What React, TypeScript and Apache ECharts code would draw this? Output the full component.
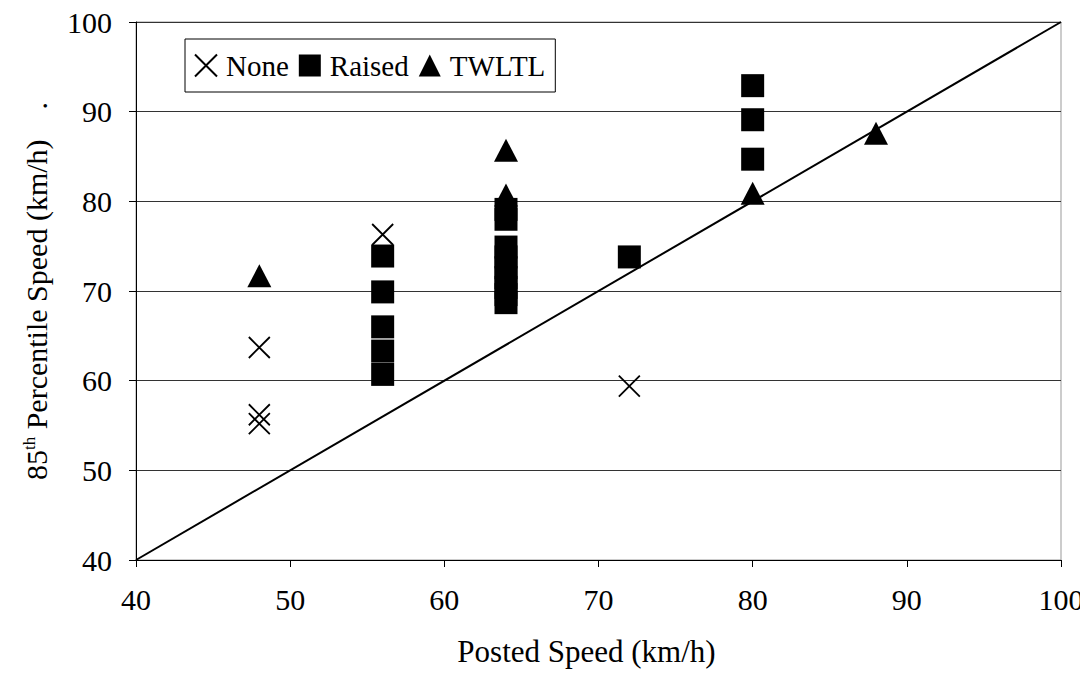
import React, { useEffect, useRef } from "react";
import * as echarts from "echarts";

const xTicks = [40, 50, 60, 70, 80, 90, 100];
const yTicks = [40, 50, 60, 70, 80, 90, 100];

const noneX = [48, 48, 48, 56, 72];
const noneY = [63.7, 56.2, 55.2, 76.3, 59.4];

const raisedX = [56, 56, 56, 56, 56, 64, 64, 64, 64, 64, 64, 64, 64, 64, 72, 80, 80, 80];
const raisedY = [73.9, 69.9, 66.0, 63.3, 60.7, 79.1, 78.0, 74.9, 73.8, 72.6, 71.5, 70.4, 69.6, 68.7, 73.8, 92.9, 89.1, 84.7];

const twltlX = [48, 64, 64, 80, 88];
const twltlY = [71.7, 85.7, 80.7, 80.9, 87.6];

const diagX = [40, 100];
const diagY = [40, 100];

const seriesNames = ["None", "Raised", "TWLTL"];

const FONT = "'Liberation Serif', 'Times New Roman', serif";

const zip = (xs: number[], ys: number[]) => xs.map((x, i) => [x, ys[i]]);

export default function App() {
  const ref = useRef<HTMLDivElement>(null);
  useEffect(() => {
    if (!ref.current) return;
    const chart = echarts.init(ref.current, undefined, { renderer: "svg" });
    chart.setOption({
      animation: false,
      backgroundColor: "#fff",
      textStyle: { fontFamily: FONT, color: "#000" },
      grid: { left: 136, right: 27, top: 22, bottom: 126, show: true, borderColor: "#999", borderWidth: 1 },
      legend: {
        data: seriesNames,
        left: 185,
        top: 39,
        orient: "horizontal",
        itemWidth: 22,
        itemHeight: 22,
        itemGap: 10,
        padding: [12, 10, 12, 9],
        borderColor: "#000",
        borderWidth: 1,
        backgroundColor: "#fff",
        textStyle: { fontFamily: FONT, fontSize: 29, color: "#000", padding: [0, 0, 0, 4] },
      },
      xAxis: {
        type: "value",
        min: 40,
        max: 100,
        interval: 10,
        name: "Posted Speed (km/h)",
        nameLocation: "middle",
        nameGap: 76,
        nameTextStyle: { fontFamily: FONT, fontSize: 31, color: "#000", padding: [0, 24, 0, 0] },
        axisLine: { show: true, lineStyle: { color: "#000", width: 1 } },
        axisTick: { show: true, length: 7, lineStyle: { color: "#000" } },
        axisLabel: { fontFamily: FONT, fontSize: 30, color: "#000", margin: 24, formatter: (v: number) => (xTicks.includes(v) ? String(v) : "") },
        splitLine: { show: false },
      },
      yAxis: {
        type: "value",
        min: 40,
        max: 100,
        interval: 10,
        name: "{a|85}{s|th}{a| Percentile Speed (km/h)    .}",
        nameLocation: "middle",
        nameGap: 84,
        nameRotate: 90,
        nameTextStyle: {
          rich: {
            a: { fontFamily: FONT, fontSize: 30, color: "#000" },
            s: { fontFamily: FONT, fontSize: 17, color: "#000", verticalAlign: "top", padding: [0, 0, 14, 0] },
          },
        },
        axisLine: { show: true, lineStyle: { color: "#000", width: 1 } },
        axisTick: { show: true, length: 7, lineStyle: { color: "#000" } },
        axisLabel: { fontFamily: FONT, fontSize: 30, color: "#000", margin: 24, formatter: (v: number) => (yTicks.includes(v) ? String(v) : "") },
        splitLine: { show: true, lineStyle: { color: "#333", width: 1 } },
      },
      series: [
        {
          name: "Diagonal",
          type: "line",
          data: zip(diagX, diagY),
          symbol: "none",
          lineStyle: { color: "#000", width: 2 },
          silent: true,
          z: 1,
        },
        {
          name: "None",
          type: "scatter",
          data: zip(noneX, noneY),
          symbol: "path://M0,0L20,20M20,0L0,20",
          symbolSize: 21,
          itemStyle: { color: "rgba(0,0,0,0)", borderColor: "#000", borderWidth: 1.8, opacity: 1 },
          z: 3,
        },
        {
          name: "Raised",
          type: "scatter",
          data: zip(raisedX, raisedY),
          symbol: "rect",
          symbolSize: 23,
          itemStyle: { color: "#000", opacity: 1 },
          z: 2,
        },
        {
          name: "TWLTL",
          type: "scatter",
          data: zip(twltlX, twltlY),
          symbol: "triangle",
          symbolSize: [24, 23],
          itemStyle: { color: "#000", opacity: 1 },
          z: 2,
        },
      ],
    });
    return () => chart.dispose();
  }, []);
  return <div ref={ref} style={{ width: 1088, height: 686, margin: -8 }} />;
}
